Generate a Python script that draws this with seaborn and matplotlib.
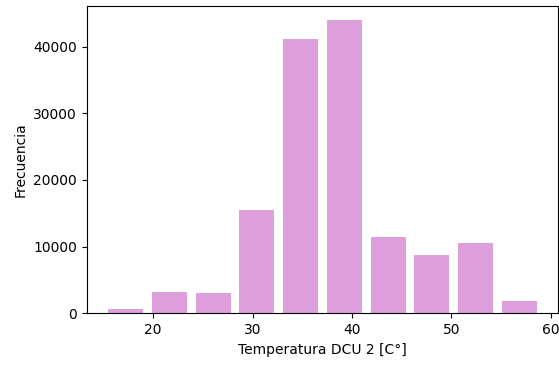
import numpy as np
import pandas as pd
import matplotlib
matplotlib.use("Agg")
import matplotlib.pyplot as plt
import seaborn as sns

# Histogram of DCU 2 temperature: 10 bins between the data limits
bin_lo, bin_hi = 15.03, 59.05
n_bins = 10
counts = [650, 3200, 3000, 15450, 41100, 43900, 11450, 8700, 10600, 1890]

edges = np.linspace(bin_lo, bin_hi, n_bins + 1)
centers = (edges[:-1] + edges[1:]) / 2
df = pd.DataFrame({"temp": centers, "n": counts})

fig = plt.figure(figsize=(5.59, 3.66), dpi=100)
ax = fig.add_axes([0.155, 0.144, 0.844, 0.840])

sns.histplot(data=df, x="temp", weights="n", bins=edges.tolist(), shrink=0.8,
             color="plum", alpha=1, linewidth=0, ax=ax)

bar_w = (bin_hi - bin_lo) / n_bins
data_lo = bin_lo + 0.1 * bar_w
data_hi = bin_hi - 0.1 * bar_w
pad = 0.05 * (data_hi - data_lo)
ax.set_xlim(data_lo - pad, data_hi + pad)
ax.set_ylim(0, max(counts) * 1.05)
ax.set_xticks([20, 30, 40, 50, 60])
ax.set_yticks([0, 10000, 20000, 30000, 40000])

ax.set_xlabel("Temperatura DCU 2 [C°]")
ax.set_ylabel("Frecuencia")

fig.savefig("out.png", dpi=100)
